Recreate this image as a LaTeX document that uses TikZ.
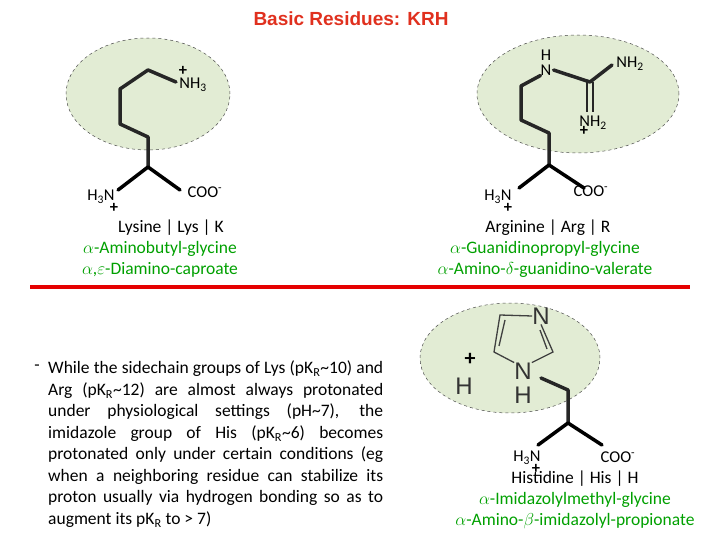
\documentclass[tikz,border=0pt]{standalone}
\usepackage{fontspec}
\usetikzlibrary{shapes.geometric}
\setmainfont{Carlito}
\newfontfamily\arial{Liberation Sans}
\definecolor{gfill}{HTML}{E2ECD4}
\definecolor{gtext}{HTML}{00A000}
\definecolor{ttl}{HTML}{E0301E}
\begin{document}
\begin{tikzpicture}[x=1pt,y=-1pt,
  blob/.style={fill=gfill,draw=black!70,dashed,line width=0.5pt},
  bond/.style={line width=3.5pt,line cap=round,line join=round,color=black!85},
  ring/.style={line width=1.3pt,color=black!75},
  lbl/.style={font=\fontsize{17.5}{17.5}\selectfont,inner sep=0pt},
  atom/.style={font=\fontsize{16.5}{16.5}\selectfont,inner sep=0pt},
  arl/.style={font=\arial\fontsize{24}{24}\selectfont,inner sep=0pt,color=black!80}]
\useasboundingbox (0,0) rectangle (720,540);
\node[inner sep=0pt,font=\arial\bfseries\fontsize{19}{19}\selectfont,text=ttl] (title) at (351,19) {Basic Residues: KRH};
% Lysine
\node[blob,ellipse,minimum width=164pt,minimum height=112pt] (lb) at (148,94) {};
\draw[bond] (176,82) -- (148,70) -- (120,89) -- (120,124) -- (148,137) -- (148,167) coordinate (la);
\draw[bond,color=black] (118,190) -- (la) -- (180,190);
\node[atom] (lnh) at (193,85) {NH\textsubscript{3}};
\node[atom] (lp) at (183,71) {\textbf{+}};
\node[atom] (lh) at (101,197) {H\textsubscript{3}N};
\node[atom] (lhp) at (114,208) {\textbf{+}};
\node[atom] (lc) at (205,192) {COO\textsuperscript{-}};
\node[lbl] (l1) at (171,228) {Lysine | Lys | K};
\node[lbl,text=gtext] (l2) at (160,249) {$\alpha$-Aminobutyl-glycine};
\node[lbl,text=gtext] (l3) at (160,270) {$\alpha$,$\varepsilon$-Diamino-caproate};
% Arginine
\node[blob,ellipse,minimum width=202pt,minimum height=118pt] (ab) at (578,94) {};
\node[atom] (an) at (546,70) {N};
\node[atom] (ah) at (546,55) {H};
\draw[bond] (an.south west) -- (521,86) -- (521,120) -- (549,133) -- (549,165) coordinate (aa);
\draw[bond,color=black] (519,188) -- (aa) -- (584,188);
\coordinate (ac) at (590,82);
\draw[bond] (an.east) ++(2,0) -- (ac) -- (612,65);
\draw[line width=2.5pt,color=black!85] (587,82) -- (587,112) (593,82) -- (593,112);
\node[atom] (anh1) at (630,64) {NH\textsubscript{2}};
\node[atom] (anh2) at (593,123) {NH\textsubscript{2}};
\node[atom] (ap) at (584,131) {\textbf{+}};
\node[atom] (ah3) at (498,197) {H\textsubscript{3}N};
\node[atom] (ahp) at (508,208) {\textbf{+}};
\node[atom] (ac2) at (591,191) {COO\textsuperscript{-}};
\node[lbl] (a1) at (548,228) {Arginine | Arg | R};
\node[lbl,text=gtext] (a2) at (545,249) {$\alpha$-Guanidinopropyl-glycine};
\node[lbl,text=gtext] (a3) at (545,270) {$\alpha$-Amino-$\delta$-guanidino-valerate};
% red line
\draw[line width=4pt,color=red!90!black] (30,287) -- (690,287);
% Histidine
\node[blob,ellipse,minimum width=180pt,minimum height=110pt] (hb) at (510,358) {};
\node[arl] (hn1) at (541,316) {N};
\node[arl] (hn2) at (523,371) {N};
\node[arl] (hh) at (523,395) {H};
\node[arl] (hhp) at (464,386) {H};
\node[font=\fontsize{22}{22}\selectfont\bfseries,inner sep=0pt] (hpl) at (470,359) {+};
\coordinate (r1) at (500,315);
\coordinate (r2) at (553,352);
\coordinate (r3) at (494,352);
\draw[ring] (hn1.west) -- (r1) -- (r3) -- (hn2.north west);
\draw[ring] (hn1.south) -- (r2) -- (hn2.north east);
\draw[ring] (505,320) -- (499,346);
\draw[ring] (540,330) -- (547,349);
\draw[bond] (541,378) -- (568,390) -- (568,423) coordinate (ha);
\draw[bond,color=black] (538,445) -- (ha) -- (602,445);
\node[atom] (hh3) at (527,458) {H\textsubscript{3}N};
\node[atom] (hhp2) at (536,469) {\textbf{+}};
\node[atom] (hc) at (618,457) {COO\textsuperscript{-}};
\node[lbl] (h1) at (575,479) {Histidine | His | H};
\node[lbl,text=gtext] (h2) at (575,500) {$\alpha$-Imidazolylmethyl-glycine};
\node[lbl,text=gtext] (h3) at (575,521) {$\alpha$-Amino-$\beta$-imidazolyl-propionate};
% paragraph
\node[lbl] (dash) at (37,368) {-};
\node[lbl,anchor=west] (p1) at (48,369) {\makebox[335pt][s]{While the sidechain groups of Lys (pK\textsubscript{R}\textasciitilde10) and}};
\node[lbl,anchor=west] (p2) at (48,391) {\makebox[335pt][s]{Arg (pK\textsubscript{R}\textasciitilde12) are almost always protonated}};
\node[lbl,anchor=west] (p3) at (48,412) {\makebox[335pt][s]{under physiological settings (pH\textasciitilde7), the}};
\node[lbl,anchor=west] (p4) at (48,434) {\makebox[335pt][s]{imidazole group of His (pK\textsubscript{R}\textasciitilde6) becomes}};
\node[lbl,anchor=west] (p5) at (48,455) {\makebox[335pt][s]{protonated only under certain conditions (eg}};
\node[lbl,anchor=west] (p6) at (48,477) {\makebox[335pt][s]{when a neighboring residue can stabilize its}};
\node[lbl,anchor=west] (p7) at (48,498) {\makebox[335pt][s]{proton usually via hydrogen bonding so as to}};
\node[lbl,anchor=west] (p8) at (48,520) {augment its pK\textsubscript{R} to > 7)};
\end{tikzpicture}
\end{document}
